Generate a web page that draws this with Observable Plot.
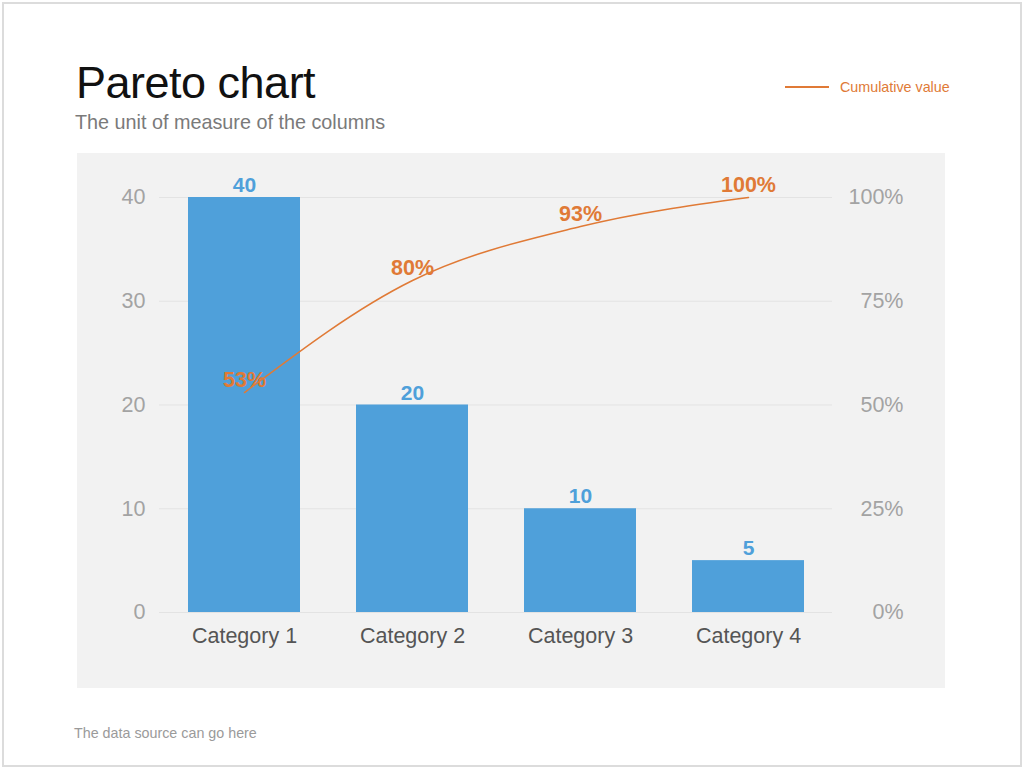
<!DOCTYPE html>
<html>
<head>
<meta charset="utf-8">
<script src="https://cdn.jsdelivr.net/npm/d3@7"></script>
<script src="https://cdn.jsdelivr.net/npm/@observablehq/plot@0.6"></script>
<style>
  html, body { margin: 0; padding: 0; background: #fff; }
  #page { position: relative; width: 1024px; height: 769px; font-family: "Liberation Sans", Arial, sans-serif; overflow: hidden; }
  #border { position: absolute; left: 2px; top: 2px; width: 1016px; height: 761px; border: 2px solid #dcdcdc; }
  #title { position: absolute; left: 76px; top: 60px; font-size: 45px; color: #111; font-weight: 300; letter-spacing: -0.5px; line-height: 1; }
  #subtitle { position: absolute; left: 75px; top: 113px; font-size: 19.8px; color: #7a7a7a; line-height: 1; }
  #legend { position: absolute; left: 785px; top: 79px; display: flex; align-items: center; color: #E07A36; font-size: 14.3px; }
  #legend .swatch { width: 44px; height: 2px; background: #E07A36; margin-right: 11px; }
  #chart { position: absolute; left: 77px; top: 153px; }
  #footer { position: absolute; left: 74px; top: 726px; font-size: 14.3px; color: #9a9a9a; line-height: 1; }
</style>
</head>
<body>
<div id="page">
  <div id="border"></div>
  <div id="title">Pareto chart</div>
  <div id="subtitle">The unit of measure of the columns</div>
  <div id="legend"><div class="swatch"></div><span>Cumulative value</span></div>
  <div id="chart"></div>
  <div id="footer">The data source can go here</div>
</div>
<script>
const categories = ["Category 1", "Category 2", "Category 3", "Category 4"];
const values = [40, 20, 10, 5];
const cumulativePct = [53, 80, 93, 100];
const leftTicks = [0, 10, 20, 30, 40];
const rightTickLabels = ["0%", "25%", "50%", "75%", "100%"];

const maxValue = 40;
const rows = categories.map((c, i) => ({category: c, value: values[i], pct: cumulativePct[i], yPct: cumulativePct[i] / 100 * maxValue}));

const blue = "#4FA0DA";
const orange = "#E07A36";

const chart = Plot.plot({
  width: 868,
  height: 535,
  marginLeft: 82,
  marginRight: 113,
  marginTop: 44,
  marginBottom: 76,
  style: {background: "#f2f2f2", fontFamily: "'Liberation Sans', Arial, sans-serif", overflow: "visible"},
  x: {domain: categories, paddingInner: 0.335, paddingOuter: 0.1675, label: null},
  y: {domain: [0, maxValue], label: null},
  marks: [
    Plot.gridY(leftTicks, {stroke: "#e3e3e3", strokeOpacity: 1, strokeWidth: 1}),
    Plot.barY(rows, {x: "category", y: "value", fill: blue}),
    Plot.text(rows, {x: "category", y: "value", text: d => String(d.value), dy: -12, fill: blue, fontSize: 21, fontWeight: "bold"}),
    Plot.line(rows, {x: "category", y: "yPct", stroke: orange, strokeWidth: 1.5, curve: "monotone-x"}),
    Plot.text(rows, {x: "category", y: "yPct", text: d => d.pct + "%", dy: -12, fill: orange, fontSize: 21.5, fontWeight: "bold"}),
    Plot.axisY(leftTicks, {anchor: "left", tickSize: 0, tickPadding: 14, fontSize: 21.5, color: "#a3a3a3", tickFormat: d => String(d)}),
    Plot.axisY(leftTicks, {anchor: "right", tickSize: 0, tickPadding: 71, textAnchor: "end", fontSize: 21.5, color: "#a3a3a3", tickFormat: d => rightTickLabels[leftTicks.indexOf(d)]}),
    Plot.axisX({tickSize: 0, tickPadding: 15, fontSize: 21.5, color: "#555555", label: null})
  ]
});
document.getElementById("chart").appendChild(chart);
</script>
</body>
</html>
